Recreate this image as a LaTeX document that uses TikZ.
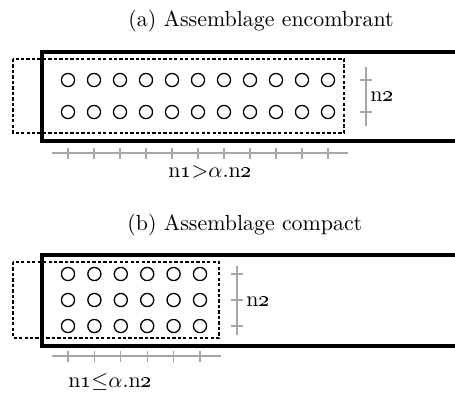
\documentclass[tikz,border=0pt]{standalone}
\usepackage{amsmath}
\usepackage{amssymb}
\usepackage{tikz}
\usetikzlibrary{positioning}

\tikzset{
  titre/.style={anchor=west, inner sep=0pt},
  boite/.style={line width=1.4pt},
  zone/.style={line width=0.9pt, dash pattern=on 1.5pt off 1pt},
  trou/.style={circle, draw, line width=0.6pt, minimum size=6pt, inner sep=0pt},
  axe/.style={gray!70, line width=0.5pt},
  cote/.style={inner sep=0pt}
}
\newcommand{\nn}[1]{n\oldstylenums{#1}}

\begin{document}
\begin{tikzpicture}[x=0.457pt,y=-0.457pt]
    \useasboundingbox (0,0) rectangle (455,392);

    % (a) Assemblage encombrant
    \node[titre] (titreA) at (128,21) {(a) Assemblage encombrant};
    \draw[boite] (42,52) rectangle (470,141);
    \draw[zone] (13,59) rectangle (344,133);
    \foreach \i in {0,...,10} {
        \node[trou] (a-\i-1) at (68+26*\i,80) {};
        \node[trou] (a-\i-2) at (68+26*\i,112) {};
    }
    \coordinate (hA1) at (52,153);
    \coordinate (hA2) at (348,153);
    \draw[axe] (hA1) -- (hA2);
    \foreach \i in {0,...,10}
        \draw[axe] (68+26*\i,147.5) -- (68+26*\i,158.5);
    \node[cote] (n1A) at (210,172) {\nn{1}$>$$\alpha$.\nn{2}};
    \coordinate (vA1) at (366,67);
    \coordinate (vA2) at (366,126);
    \draw[axe] (vA1) -- (vA2);
    \foreach \y in {80,112}
        \draw[axe] (360,\y) -- (372,\y);
    \node[cote, anchor=west] (n2A) at (370,97) {\nn{2}};

    % (b) Assemblage compact
    \node[titre] (titreB) at (127,225) {(b) Assemblage compact};
    \draw[boite] (42,255) rectangle (470,346);
    \draw[zone] (13,262) rectangle (219,338);
    \foreach \i in {0,...,5} {
        \node[trou] (b-\i-1) at (68+26.4*\i,274) {};
        \node[trou] (b-\i-2) at (68+26.4*\i,300) {};
        \node[trou] (b-\i-3) at (68+26.4*\i,326) {};
    }
    \coordinate (hB1) at (52,356);
    \coordinate (hB2) at (221,356);
    \draw[axe] (hB1) -- (hB2);
    \foreach \i in {0,...,5}
        \draw[axe] (68+26.4*\i,350.5) -- (68+26.4*\i,361.5);
    \node[cote] (n1B) at (110,382) {\nn{1}$\leq$$\alpha$.\nn{2}};
    \coordinate (vB1) at (237,266);
    \coordinate (vB2) at (237,335);
    \draw[axe] (vB1) -- (vB2);
    \foreach \y in {274,300,326}
        \draw[axe] (231,\y) -- (243,\y);
    \node[cote, anchor=west] (n2B) at (246,302) {\nn{2}};
\end{tikzpicture}
\end{document}
